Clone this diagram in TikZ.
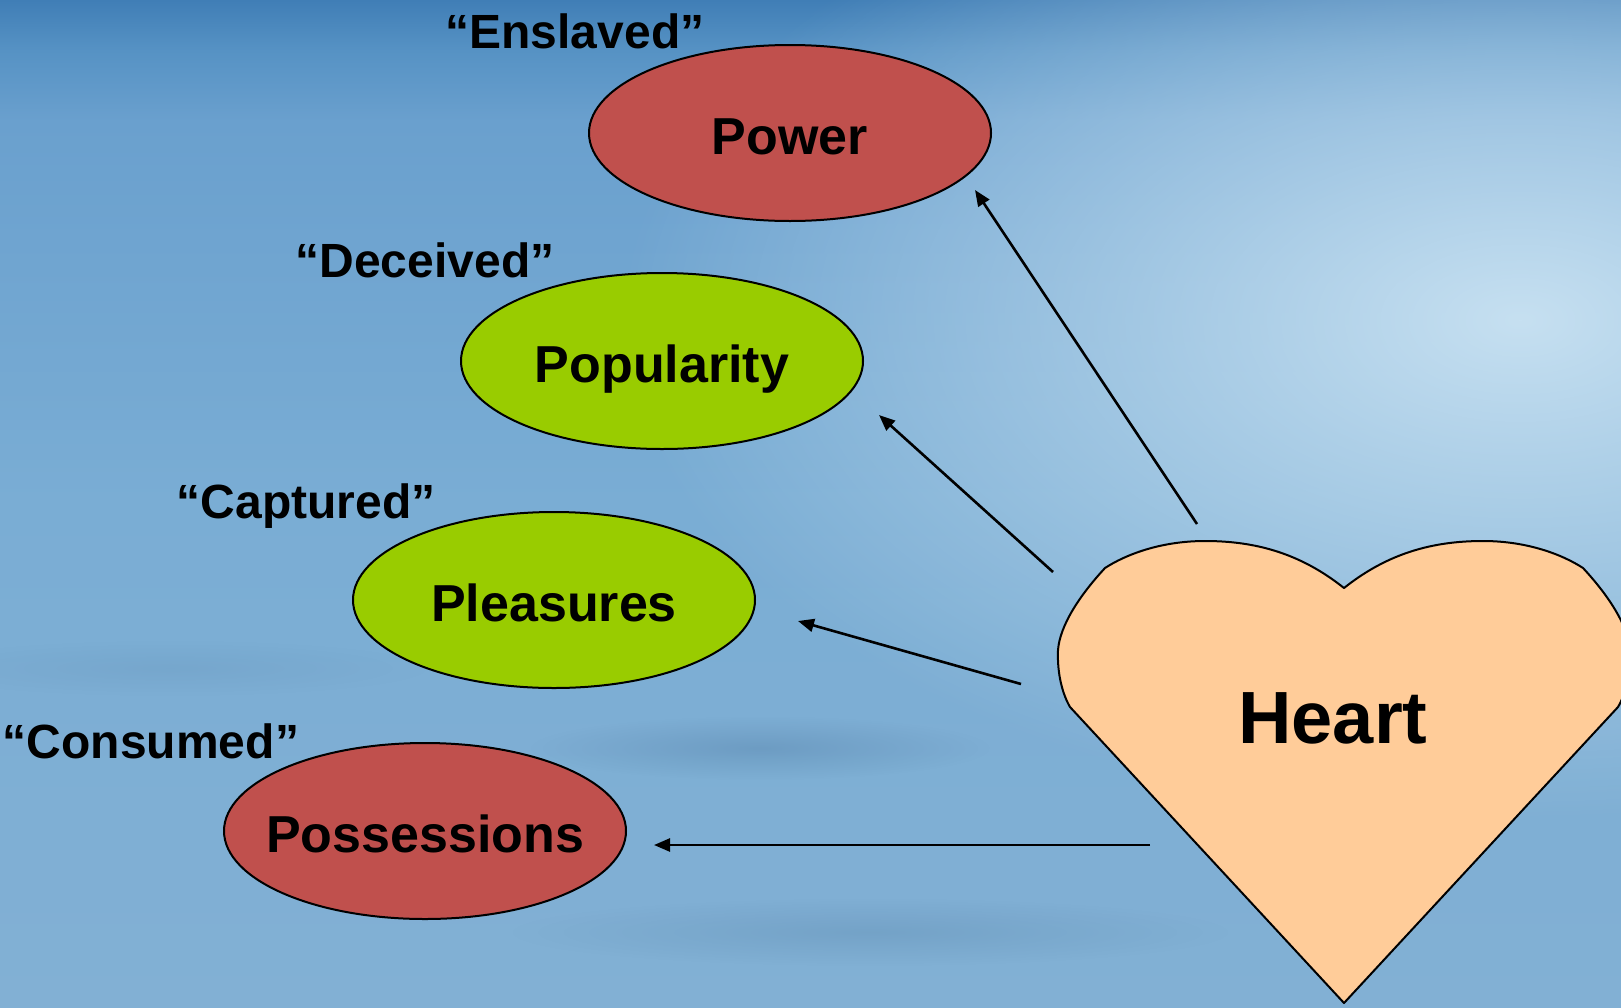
\documentclass[tikz,border=0pt]{standalone}
\usepackage{fontspec}
\setmainfont{Liberation Sans}
\usetikzlibrary{arrows.meta,shapes.geometric,fadings}
\definecolor{bgA}{RGB}{64,126,182}
\definecolor{bgB}{RGB}{86,146,196}
\definecolor{bgC}{RGB}{106,160,206}
\definecolor{bgD}{RGB}{122,173,212}
\definecolor{bgE}{RGB}{130,176,212}
\definecolor{spot}{RGB}{198,224,241}
\definecolor{streak}{RGB}{70,115,155}
\definecolor{redfill}{RGB}{192,80,77}
\definecolor{greenfill}{RGB}{153,204,0}
\definecolor{heartfill}{RGB}{255,204,153}
\pgfdeclareverticalshading{skybg}{100bp}{color(0bp)=(bgE); color(25bp)=(bgE); color(50bp)=(bgD); color(69bp)=(bgC); color(72.5bp)=(bgB); color(75bp)=(bgA); color(100bp)=(bgA)}
\tikzfading[name=softspot, inner color=transparent!0, outer color=transparent!100]
\tikzset{
  oval/.style={ellipse, draw=black, line width=1pt, minimum width=201pt, minimum height=88pt,
    inner sep=0pt, font=\fontsize{26}{26}\selectfont\bfseries, text height=21.5pt, text depth=0pt},
  redoval/.style={oval, fill=redfill},
  greenoval/.style={oval, fill=greenfill},
  tag/.style={font=\fontsize{24}{24}\selectfont\bfseries, anchor=base, inner sep=0pt},
  link/.style={line width=1.3pt, -{Triangle[length=8pt,width=6.5pt]}},
}
\begin{document}
\begin{tikzpicture}[x=0.5pt,y=-0.5pt]
\useasboundingbox (0,0) rectangle (1621,1007);
\clip (0,0) rectangle (1621,1007);
% background
\shade[shading=skybg] (0,0) rectangle (1621,1007);
\fill[spot, path fading=softspot] (1520,320) ellipse (900 and 500);
\fill[streak, opacity=0.3, path fading=softspot] (760,748) ellipse (230 and 32);
\fill[streak, opacity=0.22, path fading=softspot] (870,932) ellipse (360 and 34);
\fill[streak, opacity=0.12, path fading=softspot] (170,668) ellipse (260 and 28);
% heart
\draw[fill=heartfill, line width=1pt, line join=round]
  (1344,588) .. controls (1300,553) and (1255,541) .. (1205,541)
  .. controls (1160,541) and (1125,555) .. (1105,568)
  .. controls (1080,595) and (1060,625) .. (1058,650)
  .. controls (1057,675) and (1063,695) .. (1070,707)
  -- (1344,1003) -- (1618,707)
  .. controls (1625,695) and (1631,675) .. (1630,650)
  .. controls (1628,625) and (1608,595) .. (1583,568)
  .. controls (1563,555) and (1528,541) .. (1483,541)
  .. controls (1433,541) and (1388,553) .. (1344,588) -- cycle;
\node[font=\fontsize{37}{37}\selectfont\bfseries, anchor=base, inner sep=0pt] (heart) at (1333,743) {Heart};
% ovals
\node[redoval] (power) at (790,133) {\makebox[0pt]{Power}};
\node[greenoval] (popularity) at (662,361) {\makebox[0pt]{Popularity}};
\node[greenoval] (pleasures) at (554,600) {\makebox[0pt]{Pleasures}};
\node[redoval] (possessions) at (425,831) {\makebox[0pt]{Possessions}};
% labels
\node[tag] (enslaved) at (575,48) {“Enslaved”};
\node[tag] (deceived) at (425,277) {“Deceived”};
\node[tag] (captured) at (306,518) {“Captured”};
\node[tag] (consumed) at (151,758) {“Consumed”};
% arrow end points
\coordinate (s1) at (1197,524); \coordinate (e1) at (975,190);
\coordinate (s2) at (1053,572); \coordinate (e2) at (879,415);
\coordinate (s3) at (1021,684); \coordinate (e3) at (798,621);
\coordinate (s4) at (1150,845); \coordinate (e4) at (654,845);
\draw[link] (s1) -- (e1);
\draw[link] (s2) -- (e2);
\draw[link] (s3) -- (e3);
\draw[link] (s4) -- (e4);
\end{tikzpicture}
\end{document}
